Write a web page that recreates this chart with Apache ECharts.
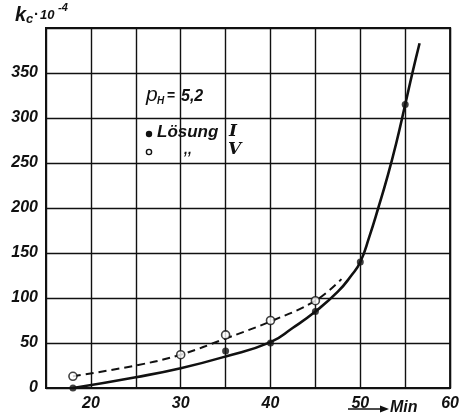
<!DOCTYPE html>
<html><head><meta charset="utf-8">
<script src="https://cdn.jsdelivr.net/npm/echarts@6/dist/echarts.min.js"></script>
<style>html,body{margin:0;padding:0;background:#fff}#c{width:462px;height:415px}</style>
</head><body><div id="c"></div>
<script>
// tick labels
const xTickLabels = [20, 30, 40, 50, 60];
const yTickLabels = [0, 50, 100, 150, 200, 250, 300, 350];
// measured points
const loesungI_x = [18, 35, 40, 45, 50, 55];
const loesungI_y = [0, 41, 50, 85, 140, 315];
const loesungV_x = [18, 30, 35, 40, 45];
const loesungV_y = [13, 37, 59, 75, 97];
// drawn curves
const curveI_x = [18, 25, 30, 35, 40, 42.5, 45, 47.5, 49, 50, 51, 52, 53, 54, 55, 55.8, 56.6];
const curveI_y = [0, 12, 22, 35, 51, 67, 85, 107, 125, 140, 168, 200, 234, 272, 315, 350, 383];
const curveV_x = [18, 25, 30, 35, 40, 45, 47.9];
const curveV_y = [13, 25, 37, 55, 74, 97, 121];

const zip = (xs, ys) => xs.map((x, i) => [x, ys[i]]);
const FONT = '"Liberation Sans", Arial, sans-serif';
const INK = '#111';

const chart = echarts.init(document.getElementById('c'), null, {renderer: 'canvas'});
chart.setOption({
  animation: false,
  backgroundColor: '#fff',
  grid: {left: 46, right: 8, top: 28, bottom: 27, show: true, borderColor: INK, borderWidth: 2, backgroundColor: 'transparent'},
  xAxis: {
    type: 'value', min: 15, max: 60, interval: 5,
    axisLine: {show: true, lineStyle: {color: INK, width: 2}},
    axisTick: {show: false},
    splitLine: {show: true, lineStyle: {color: INK, width: 1.4}},
    axisLabel: {
      margin: 8, color: INK, fontFamily: FONT, fontStyle: 'italic', fontWeight: 'bold', fontSize: 16,
      formatter: v => xTickLabels.includes(v) ? String(v) : ''
    }
  },
  yAxis: {
    type: 'value', min: 0, max: 400, interval: 50,
    axisLine: {show: true, lineStyle: {color: INK, width: 2}},
    axisTick: {show: false},
    splitLine: {show: true, lineStyle: {color: INK, width: 1.4}},
    axisLabel: {
      margin: 8, color: INK, fontFamily: FONT, fontStyle: 'italic', fontWeight: 'bold', fontSize: 16,
      formatter: v => yTickLabels.includes(v) ? String(v) : ''
    }
  },
  series: [
    {type: 'line', data: zip(curveI_x, curveI_y), smooth: 0.5, showSymbol: false,
     lineStyle: {color: INK, width: 2.6}, z: 3},
    {type: 'line', data: zip(curveV_x, curveV_y), smooth: 0.4, showSymbol: false,
     lineStyle: {color: INK, width: 2, type: [8, 5]}, z: 3},
    {type: 'scatter', data: zip(loesungI_x, loesungI_y), symbol: 'circle', symbolSize: 7,
     itemStyle: {color: INK}, z: 5},
    {type: 'scatter', data: zip(loesungV_x, loesungV_y), symbol: 'circle', symbolSize: 8,
     itemStyle: {color: '#fff', borderColor: INK, borderWidth: 1.6}, z: 5}
  ],
  graphic: [
    // y-axis title k_c · 10^-4
    {type: 'text', x: 15, y: 5, style: {text: 'k', font: 'italic bold 20px ' + FONT, fill: INK}},
    {type: 'text', x: 26, y: 13, style: {text: 'c', font: 'italic bold 13px ' + FONT, fill: INK}},
    {type: 'text', x: 34, y: 7, style: {text: '·', font: 'bold 15px ' + FONT, fill: INK}},
    {type: 'text', x: 40, y: 9, style: {text: '10', font: 'italic bold 13px ' + FONT, fill: INK}},
    {type: 'text', x: 58, y: 2, style: {text: '-4', font: 'italic bold 11px ' + FONT, fill: INK}},
    // pH = 5,2
    {type: 'text', x: 146, y: 85, style: {text: 'p', font: 'italic 21px ' + FONT, fill: INK}},
    {type: 'text', x: 157, y: 96, style: {text: 'H', font: 'italic bold 10px ' + FONT, fill: INK}},
    {type: 'text', x: 167, y: 89, style: {text: '=', font: 'bold 14px ' + FONT, fill: INK}},
    {type: 'text', x: 181, y: 89, style: {text: '5,2', font: 'italic bold 16px ' + FONT, fill: INK}},
    // legend
    {type: 'circle', shape: {cx: 149, cy: 134, r: 3.2}, style: {fill: INK}},
    {type: 'text', x: 157, y: 124, style: {text: 'Lösung', font: 'italic bold 17px ' + FONT, fill: INK}},
    {type: 'text', x: 229, y: 123, style: {text: 'I', font: 'italic bold 17px "DejaVu Serif", serif', fill: INK}},
    {type: 'circle', shape: {cx: 149, cy: 152, r: 2.6}, style: {fill: '#fff', stroke: INK, lineWidth: 1.4}},
    {type: 'text', x: 184, y: 143, style: {text: ',,', font: 'italic bold 14px ' + FONT, fill: INK}},
    {type: 'text', x: 228, y: 141, style: {text: 'V', font: 'italic bold 17px "DejaVu Serif", serif', fill: INK}},
    // arrow -> Min
    {type: 'line', shape: {x1: 348, y1: 409, x2: 382, y2: 409}, style: {stroke: INK, lineWidth: 1.6}},
    {type: 'polygon', shape: {points: [[389, 409], [380, 405.5], [380, 412.5]]}, style: {fill: INK}},
    {type: 'text', x: 390, y: 400, style: {text: 'Min', font: 'italic bold 16px ' + FONT, fill: INK}}
  ]
});
</script>
</body></html>
